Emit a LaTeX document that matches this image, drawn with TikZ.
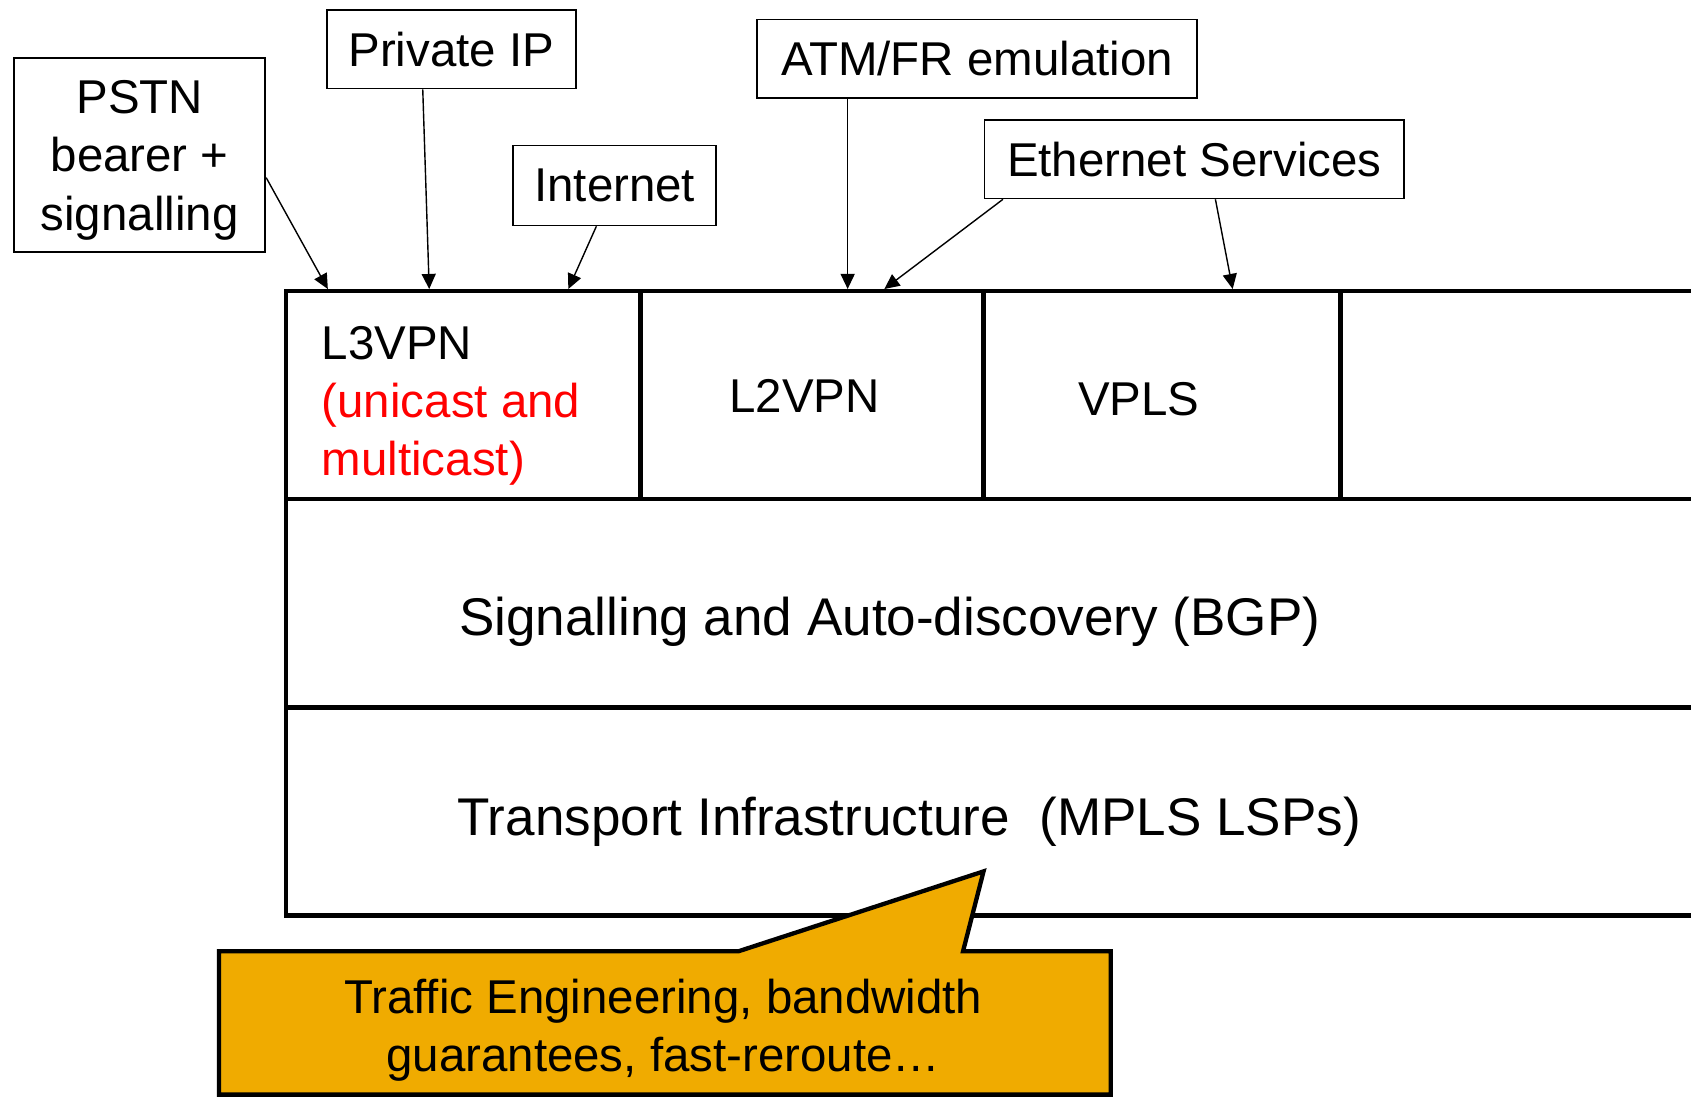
\documentclass[tikz,border=0pt]{standalone}
\usepackage{fontspec}
\setmainfont{Liberation Sans}
\usetikzlibrary{arrows.meta}
\definecolor{calloutorange}{RGB}{240,171,0}

\begin{document}
\begin{tikzpicture}[x=0.5pt, y=-0.5pt,
        every node/.style = {inner sep=0pt, align=center, text depth=0pt,
        font=\fontsize{22}{27}\selectfont},
        service/.style = {draw, line width=0.8pt, minimum height=36.5pt},
        layer/.style = {draw, line width=2pt, outer sep=0pt, anchor=north west},
        biglabel/.style = {font=\fontsize{24.6}{30}\selectfont},
        feed/.style = {line width=0.65pt, -{Triangle[length=7pt, width=6.5pt]}}]
    \useasboundingbox (0,0) rectangle (1568,1017);
    \clip (0,0) rectangle (1568,1017);
    % services on top
    \node[service, minimum width=116.5pt, minimum height=90pt] (pstn) at (129.5,144) {PSTN\\bearer +\\signalling};
    \node[service, minimum width=115.5pt] (priv) at (418.5,45.5) {Private IP};
    \node[service, minimum width=94pt, minimum height=37pt] (inet) at (570,172) {Internet};
    \node[service, minimum width=204pt] (atm) at (906,54.5) {ATM/FR emulation};
    \node[service, minimum width=194.5pt] (eth) at (1107.5,147.5) {Ethernet Services};
    % layers
    \node[layer, minimum width=164.5pt, minimum height=96.5pt] (l3) at (265,270) {};
    \node[layer, minimum width=159pt, minimum height=96.5pt] (l2) at (594,270) {};
    \node[layer, minimum width=165.5pt, minimum height=96.5pt] (vpls) at (912,270) {};
    \node[layer, minimum width=250pt, minimum height=96.5pt] (spare) at (1243,270) {};
    \node[layer, minimum width=800pt, minimum height=96.5pt] (sig) at (265,463) {};
    \node[layer, minimum width=800pt, minimum height=96.5pt] (trans) at (265,656) {};
    \node[anchor=west, align=left] (l3txt) at (298,372) {L3VPN\\\textcolor{red}{(unicast and}\\\textcolor{red}{multicast)}};
    \node (l2txt) at (746,367) {L2VPN};
    \node (vplstxt) at (1056,370) {VPLS};
    \node[biglabel] (sigtxt) at (825,571) {Signalling and Auto-discovery (BGP)};
    \node[biglabel] (transtxt) at (843,757) {Transport Infrastructure\ \ (MPLS LSPs)};
    % feeds
    \draw[feed] (pstn.-10) -- ([xshift=19.5pt, yshift=1pt]l3.north west);
    \draw[feed] ([xshift=-13.25pt]priv.south) -- ([xshift=66.5pt, yshift=1pt]l3.north west);
    \draw[feed] ([xshift=-8.5pt]inet.south) -- ([xshift=131pt, yshift=1pt]l3.north west);
    \draw[feed] ([xshift=-60pt]atm.south) -- ([xshift=96pt, yshift=1pt]l2.north west);
    \draw[feed] ([xshift=-88.75pt]eth.south) -- ([xshift=113pt, yshift=1pt]l2.north west);
    \draw[feed] ([xshift=9.75pt]eth.south) -- ([xshift=115.5pt, yshift=1pt]vpls.north west);
    % callout
    \draw[line width=2pt, fill=calloutorange] (203,882) -- (685,882) -- (912,808) -- (893,882)
        -- (1030,882) -- (1030,1015) -- (203,1015) -- cycle;
    \node (te) at (615,951) {Traffic Engineering, bandwidth\\guarantees, fast-reroute…};
\end{tikzpicture}
\end{document}
